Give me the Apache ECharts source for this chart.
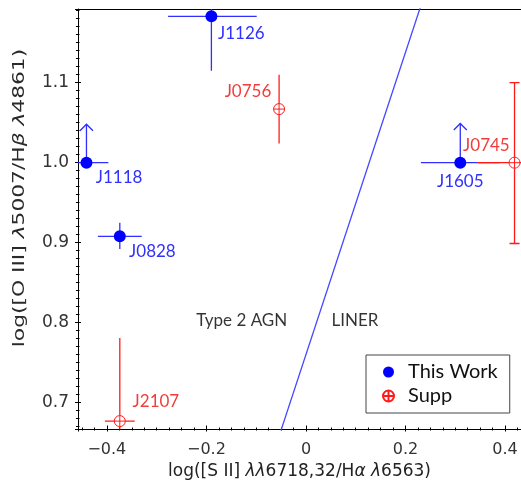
<!DOCTYPE html>
<html>
<head>
<meta charset="utf-8">
<style>
  html, body { margin: 0; padding: 0; background: #ffffff; }
  #chart { width: 521px; height: 487px; }
</style>
<script src="https://cdn.jsdelivr.net/npm/echarts@6/dist/echarts.min.js"></script>
</head>
<body>
<div id="chart"></div>
<script>
// ---- Sources from this work (filled dots) ----
const thisNames = ['J1126', 'J1118', 'J0828', 'J1605'];
const thisX     = [-0.190, -0.441, -0.374, 0.310];
const thisY     = [1.183, 1.000, 0.908, 1.000];
const thisXLo   = [-0.277, -0.485, -0.418, 0.231];
const thisXHi   = [-0.099, -0.397, -0.330, 0.389];
const thisYLo   = [1.115, null, 0.892, null];
const thisYHi   = [1.251, null, 0.925, null];
const thisLimit = [null, 1.048, null, 1.049];   // lower limits: arrow tip value

// ---- Supplementary sources (open circle-plus) ----
const suppNames = ['J0756', 'J0745', 'J2107'];
const suppX     = [-0.054, 0.419, -0.374];
const suppY     = [1.067, 1.000, 0.677];
const suppXLo   = [null, 0.344, -0.404];
const suppXHi   = [null, 0.494, -0.344];
const suppYLo   = [1.024, 0.899, 0.573];
const suppYHi   = [1.110, 1.100, 0.781];
const suppLimit = [null, null, null];
const suppCaps  = [false, true, false];

// ---- Type 2 AGN / LINER dividing line ----
const divX = [-0.07, 0.25];
const divY = [0.628, 1.2325];

// ---- Region names ----
const regionNames = ['Type 2 AGN', 'LINER'];
const regionX = [-0.129, 0.0985];
const regionY = [0.8025, 0.8025];

// ---- Axis ranges ----
const xRange = [-0.458, 0.432];
const yRange = [0.6665, 1.1921];

// ---- Styling ----
const BLUE = '#0000ff';
const BLUE_LINE = '#2f2fff';
const BLUE_TEXT = '#3030ff';
const RED = '#ff1a1a';
const RED_TEXT = '#f23c3c';
const AXIS_FONT = '"DejaVu Sans", sans-serif';
const LABEL_FONT = 'Lato, "Open Sans", sans-serif';

// text anchor offsets (px) from the marker centre
const labelPlacement = {
  J1126: { align: 'left',   dx: 6.6,  dy: 17.0 },
  J1118: { align: 'left',   dx: 9.3,  dy: 15.3 },
  J0828: { align: 'left',   dx: 9.3,  dy: 15.7 },
  J1605: { align: 'center', dx: 0,    dy: 19.0 },
  J0756: { align: 'right',  dx: -7.3, dy: -16.6 },
  J0745: { align: 'right',  dx: -4.3, dy: -16.7 },
  J2107: { align: 'left',   dx: 13.3, dy: -19.3 }
};

const CIRCLE_PLUS = 'path://M10,0A10,10,0,1,1,-10,0A10,10,0,1,1,10,0ZM-10,0L10,0M0,-10L0,10';

function tickText(v) {
  if (Math.abs(v) < 1e-9) return '0';
  return v.toFixed(1).replace('-', '\u2212');
}

function pointData(names, xs, ys, color, symbolSize) {
  return xs.map((x, i) => {
    const p = labelPlacement[names[i]];
    const h = symbolSize / 2;
    return {
      name: names[i],
      value: [x, ys[i]],
      label: {
        show: true,
        formatter: names[i],
        position: [h + p.dx, h + p.dy],
        align: p.align,
        verticalAlign: 'middle',
        color: color,
        fontFamily: LABEL_FONT,
        fontSize: 17
      }
    };
  });
}

// error bars, caps and lower-limit arrows, mapped through the axes
function errorBars(xs, ys, xlo, xhi, ylo, yhi, limit, caps, color) {
  return {
    type: 'custom',
    silent: true,
    z: 2,
    data: xs.map((x, i) => [x, ys[i]]),
    encode: { x: 0, y: 1 },
    renderItem: function (params, api) {
      const i = params.dataIndex;
      const cs = params.coordSys;
      const style = { stroke: color, lineWidth: 1.3, fill: null };
      const kids = [];
      const c = api.coord([xs[i], ys[i]]);
      if (xlo[i] != null) {
        const a = api.coord([xlo[i], ys[i]]);
        const b = api.coord([xhi[i], ys[i]]);
        kids.push({ type: 'line', shape: { x1: a[0], y1: a[1], x2: b[0], y2: b[1] }, style: style });
      }
      if (ylo[i] != null) {
        const a = api.coord([xs[i], ylo[i]]);
        const b = api.coord([xs[i], yhi[i]]);
        kids.push({ type: 'line', shape: { x1: a[0], y1: a[1], x2: b[0], y2: b[1] }, style: style });
        if (caps && caps[i]) {
          kids.push({ type: 'line', shape: { x1: a[0] - 5, y1: a[1], x2: a[0] + 5, y2: a[1] }, style: style });
          kids.push({ type: 'line', shape: { x1: b[0] - 5, y1: b[1], x2: b[0] + 5, y2: b[1] }, style: style });
        }
      }
      if (limit[i] != null) {
        const t = api.coord([xs[i], limit[i]]);
        kids.push({ type: 'line', shape: { x1: c[0], y1: c[1], x2: t[0], y2: t[1] }, style: style });
        kids.push({ type: 'polyline', shape: { points: [[t[0] - 6.5, t[1] + 6.5], [t[0], t[1]], [t[0] + 6.5, t[1] + 6.5]] }, style: style });
      }
      return {
        type: 'group',
        children: kids,
        clipPath: { type: 'rect', shape: { x: cs.x, y: cs.y, width: cs.width, height: cs.height } }
      };
    }
  };
}

const chart = echarts.init(document.getElementById('chart'), null, { renderer: 'canvas' });

const baseX = {
  type: 'value', min: xRange[0], max: xRange[1], splitNumber: 5,
  splitLine: { show: false }
};
const baseY = {
  type: 'value', min: yRange[0], max: yRange[1], splitNumber: 5,
  splitLine: { show: false }
};

chart.setOption({
  animation: false,
  backgroundColor: '#ffffff',
  grid: { left: 78, right: 0, top: 9, bottom: 57.5, containLabel: false },
  xAxis: [
    Object.assign({}, baseX, {
      position: 'bottom',
      axisLine: { show: true, onZero: false, lineStyle: { color: '#000', width: 1 } },
      axisTick: { show: true, inside: true, length: 4, lineStyle: { color: '#000' } },
      minorTick: { show: true, splitNumber: 8, length: 2, lineStyle: { color: '#000' } },
      axisLabel: {
        show: true, margin: 12, showMinLabel: false, showMaxLabel: false,
        formatter: tickText, color: '#333', fontFamily: AXIS_FONT, fontSize: 16
      },
      name: 'log([S II] {i|\u03bb\u03bb}6718,32/H{i|\u03b1} {i|\u03bb}6563)',
      nameLocation: 'middle',
      nameGap: 34,
      nameTextStyle: {
        color: '#222', fontFamily: AXIS_FONT, fontSize: 17,
        rich: { i: { fontStyle: 'italic', fontFamily: AXIS_FONT, fontSize: 17, color: '#222' } }
      }
    }),
    Object.assign({}, baseX, {
      position: 'bottom',
      axisLine: { show: false, onZero: false },
      axisTick: { show: true, inside: false, length: 2, lineStyle: { color: '#000' } },
      minorTick: { show: true, splitNumber: 8, length: 1, lineStyle: { color: '#000' } },
      axisLabel: { show: false }
    }),
    Object.assign({}, baseX, {
      position: 'top',
      axisLine: { show: true, onZero: false, lineStyle: { color: '#000', width: 1.2 } },
      axisTick: { show: false },
      axisLabel: { show: false }
    })
  ],
  yAxis: [
    Object.assign({}, baseY, {
      position: 'left',
      axisLine: { show: true, onZero: false, lineStyle: { color: '#000', width: 1 } },
      axisTick: { show: true, inside: true, length: 3, lineStyle: { color: '#000' } },
      minorTick: { show: true, splitNumber: 10, length: 1.5, lineStyle: { color: '#000' } },
      axisLabel: {
        show: true, margin: 9, showMinLabel: false, showMaxLabel: false,
        formatter: tickText, color: '#333', fontFamily: AXIS_FONT, fontSize: 17
      }
    }),
    Object.assign({}, baseY, {
      position: 'left',
      axisLine: { show: false, onZero: false },
      axisTick: { show: true, inside: false, length: 3, lineStyle: { color: '#000' } },
      minorTick: { show: true, splitNumber: 10, length: 2, lineStyle: { color: '#000' } },
      axisLabel: { show: false }
    })
  ],
  legend: {
    orient: 'vertical',
    left: 366, top: 355,
    padding: [7, 12, 7, 16],
    itemWidth: 11, itemHeight: 11, itemGap: 4,
    borderColor: '#444', borderWidth: 1, borderRadius: 0,
    backgroundColor: '#ffffff',
    textStyle: { fontFamily: LABEL_FONT, fontSize: 20, color: '#111', lineHeight: 20, padding: [0, 0, 0, 9] },
    data: ['This Work', 'Supp']
  },
  graphic: [
    {
      type: 'text',
      x: 20, y: 198,
      rotation: Math.PI / 2,
      scaleX: 1.36,
      silent: true,
      style: {
        text: 'log([O III] {i|\u03bb}5007/H{i|\u03b2} {i|\u03bb}4861)',
        font: '16px "DejaVu Sans", sans-serif',
        fill: '#2a2a2a',
        align: 'center',
        verticalAlign: 'middle',
        rich: { i: { fontStyle: 'italic', fontFamily: 'DejaVu Sans', fontSize: 16, fill: '#2a2a2a' } }
      }
    }
  ],
  series: [
    {
      name: 'divider',
      type: 'line',
      data: divX.map((x, i) => [x, divY[i]]),
      symbol: 'none',
      clip: true,
      silent: true,
      z: 1,
      lineStyle: { color: '#4646ff', width: 1.3 }
    },
    {
      name: 'regions',
      type: 'scatter',
      data: regionX.map((x, i) => ({ name: regionNames[i], value: [x, regionY[i]] })),
      symbolSize: 1,
      itemStyle: { color: 'rgba(0,0,0,0)' },
      silent: true,
      label: {
        show: true, position: 'inside', formatter: '{b}',
        color: '#000', fontFamily: LABEL_FONT, fontSize: 17
      }
    },
    errorBars(thisX, thisY, thisXLo, thisXHi, thisYLo, thisYHi, thisLimit, null, BLUE_LINE),
    errorBars(suppX, suppY, suppXLo, suppXHi, suppYLo, suppYHi, suppLimit, suppCaps, RED),
    {
      name: 'This Work',
      type: 'scatter',
      z: 4,
      symbol: 'circle',
      symbolSize: 12,
      itemStyle: { color: BLUE, opacity: 1 },
      data: pointData(thisNames, thisX, thisY, BLUE_TEXT, 12)
    },
    {
      name: 'Supp',
      type: 'scatter',
      z: 4,
      symbol: CIRCLE_PLUS,
      symbolSize: 11,
      itemStyle: { color: '#ffffff', borderColor: RED, borderWidth: 1, opacity: 1 },
      data: pointData(suppNames, suppX, suppY, RED_TEXT, 11)
    }
  ]
});
</script>
</body>
</html>
